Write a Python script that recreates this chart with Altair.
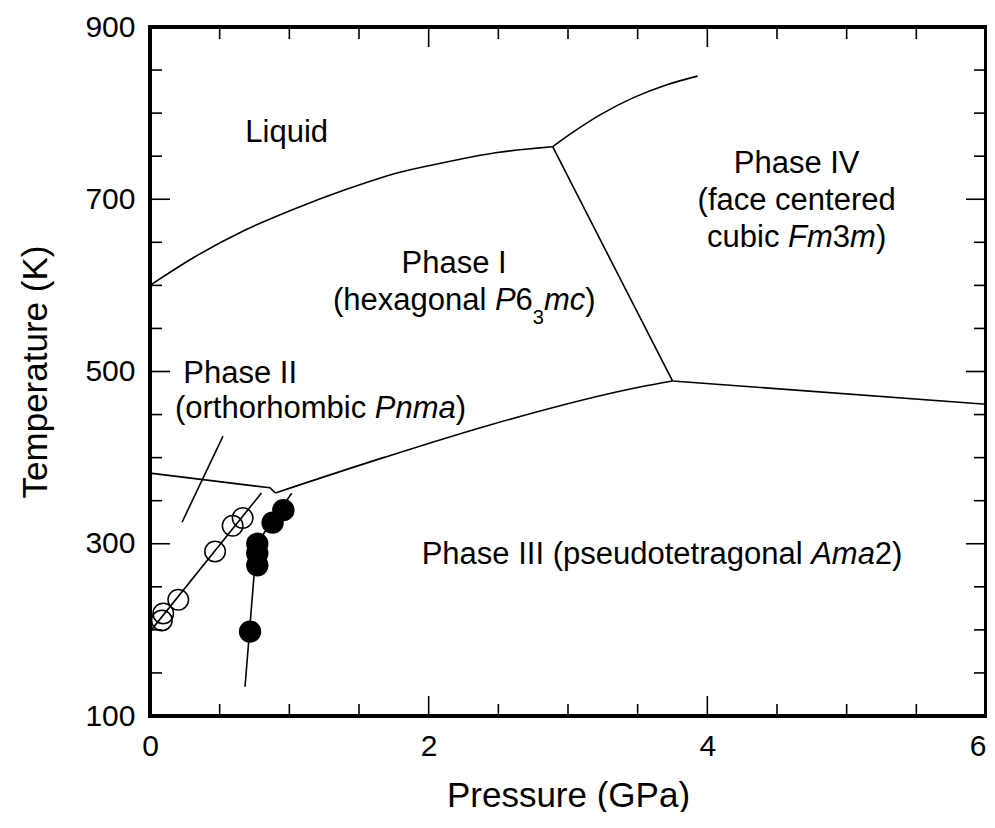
import altair as alt
import pandas as pd

# ---------------- data ----------------
# phase boundaries (pressure GPa, temperature K)
melt_P = [0.0, 0.32, 0.68, 1.04, 1.40, 1.76, 2.12, 2.48, 2.89]
melt_T = [600, 633, 664, 689, 711, 730, 743, 754, 761]
liqIV_P = [2.89, 3.01, 3.23, 3.47, 3.71, 3.93]
liqIV_T = [761, 775, 798, 818, 833, 843]
I_III_P = [0.90, 1.675, 2.44, 3.517, 3.75]
I_III_T = [359, 400, 438, 482, 489]
I_IV_P = [2.89, 3.75]
I_IV_T = [761, 489]
IV_III_P = [3.75, 6.0]
IV_III_T = [489, 462]
II_I_P = [0.0, 0.86, 0.90]
II_I_T = [382, 365, 359]
leader_P = [0.23, 0.524]
leader_T = [325, 425]
openfit_P = [0.01, 0.80]
openfit_T = [200, 359]
filledfit_P = [0.682, 0.765, 1.017]
filledfit_T = [134, 300, 358.6]

# measured points
open_P = [0.085, 0.095, 0.203, 0.467, 0.593, 0.665]
open_T = [211, 219, 235, 291, 321, 330]
filled_P = [0.718, 0.770, 0.770, 0.770, 0.880, 0.957]
filled_T = [198, 275, 289, 300, 324.5, 339]

# axes
x_label_values = [0, 2, 4, 6]
y_label_values = [100, 300, 500, 700, 900]
x_major_ticks = [2, 4]
x_minor_ticks = [0.5, 1, 1.5, 2.5, 3, 3.5, 4.5, 5, 5.5]
y_major_ticks = [300, 500, 700]
y_minor_ticks = [150, 200, 250, 350, 400, 450, 550, 600, 650, 750, 800, 850]

# ---------------- layout / style ----------------
FONT = "Liberation Sans"
W, H = 836, 689
F = 31          # annotation font size
FSUB = 20       # subscript size
P_PER_PX = 6.0 / W
T_PER_PX = 800.0 / H

# Arial-compatible advance widths (per 1000 em)
AW = {" ": 278, "(": 333, ")": 333, "2": 556, "3": 556, "6": 556,
      "A": 667, "F": 611, "I": 278, "L": 556, "P": 667, "V": 667,
      "a": 556, "b": 556, "c": 500, "d": 556, "e": 556, "f": 278, "g": 556,
      "h": 556, "i": 222, "l": 222, "m": 833, "n": 556, "o": 556, "p": 556,
      "q": 556, "r": 333, "s": 500, "t": 278, "u": 556, "x": 500}


def tw(s, size):
    return sum(AW.get(c, 556) for c in s) * size / 1000.0


# annotation lines: anchor (GPa, K), alignment, fragments (text, kind)
label_lines = [
    (0.981, 767, "center", [("Liquid", "n")]),
    (4.641, 730, "center", [("Phase IV", "n")]),
    (4.641, 687.5, "center", [("(face centered", "n")]),
    (4.641, 645, "center", [("cubic ", "n"), ("Fm", "i"), ("3", "n"), ("m", "i"), (")", "n")]),
    (2.183, 614, "center", [("Phase I", "n")]),
    (1.313, 571.4, "left", [("(hexagonal ", "n"), ("P", "i"), ("6", "n"), ("3", "s"), ("mc", "i"), (")", "n")]),
    (0.239, 486.3, "left", [("Phase II", "n")]),
    (0.179, 445.7, "left", [("(orthorhombic ", "n"), ("Pnma", "i"), (")", "n")]),
    (3.675, 276.5, "center", [("Phase III (pseudotetragonal ", "n"), ("Ama", "i"), ("2", "n"), (")", "n")]),
]

rows = []
for ax, at, align, frags in label_lines:
    widths = [tw(t, FSUB if k == "s" else F) for t, k in frags]
    total = sum(widths)
    left = ax - (total / 2.0) * P_PER_PX if align == "center" else ax
    for (t, k), w in zip(frags, widths):
        ty = at - 14 * T_PER_PX if k == "s" else at
        rows.append({"P": left, "T": ty, "text": t, "kind": k})
        left += w * P_PER_PX
txt_df = pd.DataFrame(rows)


def seg_table(segs):
    out = []
    for name, (ps, ts) in segs.items():
        for i, (p, t) in enumerate(zip(ps, ts)):
            out.append({"seg": name, "i": i, "P": p, "T": t})
    return pd.DataFrame(out)


curves_df = seg_table({
    "melt": (melt_P, melt_T), "liqIV": (liqIV_P, liqIV_T), "I_III": (I_III_P, I_III_T),
})
straight_df = seg_table({
    "I_IV": (I_IV_P, I_IV_T), "IV_III": (IV_III_P, IV_III_T), "II_I": (II_I_P, II_I_T),
    "leader": (leader_P, leader_T), "openfit": (openfit_P, openfit_T),
    "filledfit": (filledfit_P, filledfit_T),
})
open_df = pd.DataFrame({"P": open_P, "T": open_T})
filled_df = pd.DataFrame({"P": filled_P, "T": filled_T})

xs = alt.Scale(domain=[0, 6], nice=False, zero=False)
ys = alt.Scale(domain=[100, 900], nice=False, zero=False)
xaxis = alt.Axis(values=x_label_values, format="d", labelFontSize=30, labelPadding=15,
                 labelFlush=False, labelOverlap=False, ticks=False, tickSize=0,
                 labelAlign={"condition": {"test": "datum.value >= 6", "value": "right"},
                             "value": "center"},
                 domain=False, grid=False, title="Pressure (GPa)", titleFontSize=35,
                 titleBaseline="alphabetic", titleY=90)
yaxis = alt.Axis(values=y_label_values, format="d", labelFontSize=30, labelPadding=15,
                 labelOverlap=False, ticks=False, tickSize=0, domain=False, grid=False,
                 title="Temperature (K)", titleFontSize=35, titleBaseline="alphabetic",
                 titleX=-104)
X = alt.X("P:Q", scale=xs, axis=xaxis)
Y = alt.Y("T:Q", scale=ys, axis=yaxis)

curves = alt.Chart(curves_df).mark_line(color="black", strokeWidth=1.6,
                                         interpolate="monotone").encode(
    x=X, y=Y, detail="seg:N", order="i:Q")
straights = alt.Chart(straight_df).mark_line(color="black", strokeWidth=1.6).encode(
    x=X, y=Y, detail="seg:N", order="i:Q")
opens = alt.Chart(open_df).mark_point(shape="circle", filled=False, size=420,
                                      color="black", strokeWidth=1.5, opacity=1).encode(x=X, y=Y)
filleds = alt.Chart(filled_df).mark_point(shape="circle", filled=True, size=500,
                                          color="black", opacity=1).encode(x=X, y=Y)


def text_layer(kind, **kw):
    return alt.Chart(txt_df).transform_filter(alt.datum.kind == kind).mark_text(
        align="left", baseline="alphabetic", font=FONT, color="black", **kw
    ).encode(x=X, y=Y, text="text:N")


t_norm = text_layer("n", fontSize=F)
t_ital = text_layer("i", fontSize=F, fontStyle="italic")
t_sub = text_layer("s", fontSize=FSUB)


def xtick_layer(vals, length, side):
    df = pd.DataFrame({"P": vals})
    if side == "bottom":
        y, y2 = alt.value(H), alt.value(H - length)
    else:
        y, y2 = alt.value(0), alt.value(length)
    return alt.Chart(df).mark_rule(color="black", strokeWidth=1.6).encode(x=X, y=y, y2=y2)


def ytick_layer(vals, length, side):
    df = pd.DataFrame({"T": vals})
    if side == "left":
        x, x2 = alt.value(0), alt.value(length)
    else:
        x, x2 = alt.value(W), alt.value(W - length)
    return alt.Chart(df).mark_rule(color="black", strokeWidth=1.6).encode(y=Y, x=x, x2=x2)


MAJ, MIN = 20, 12
ticks = [
    xtick_layer(x_major_ticks, MAJ, "bottom"), xtick_layer(x_minor_ticks, MIN, "bottom"),
    xtick_layer(x_major_ticks, MAJ, "top"), xtick_layer(x_minor_ticks, MIN, "top"),
    ytick_layer(y_major_ticks, MAJ, "left"), ytick_layer(y_minor_ticks, MIN, "left"),
    ytick_layer(y_major_ticks, MAJ, "right"), ytick_layer(y_minor_ticks, MIN, "right"),
]

chart = alt.layer(curves, straights, opens, filleds, t_norm, t_ital, t_sub, *ticks).properties(
    width=W, height=H,
    autosize=alt.AutoSizeParams(type="none"),
    padding={"left": 142, "top": 19, "right": 1, "bottom": 96},
).configure_view(stroke="black", strokeWidth=4).configure_axis(
    labelFont=FONT, titleFont=FONT, labelColor="black", titleColor="black",
    titleFontWeight="normal"
)

chart.save("out.html", embed_options={"renderer": "svg", "actions": False})
